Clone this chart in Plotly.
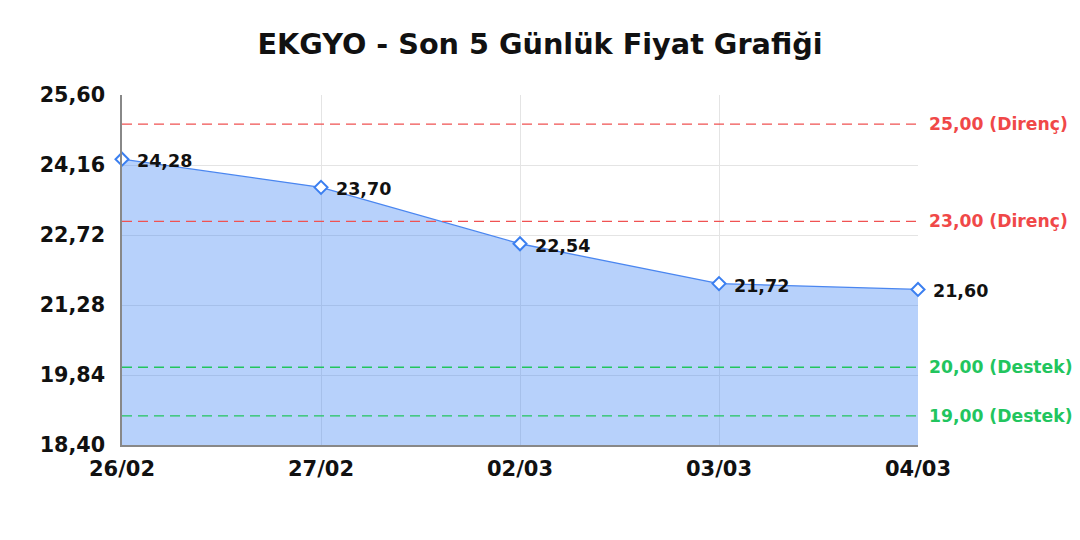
import plotly.graph_objects as go

dates = ["26/02", "27/02", "02/03", "03/03", "04/03"]
prices = [24.28, 23.70, 22.54, 21.72, 21.60]
resistance = [25.00, 23.00]
support = [20.00, 19.00]
y_ticks = [18.40, 19.84, 21.28, 22.72, 24.16, 25.60]

FONT = "DejaVu Sans"


def tr(v):
    return f"{v:.2f}".replace(".", ",")


fig = go.Figure()
fig.add_trace(go.Scatter(
    x=dates, y=prices, mode="lines+markers",
    line=dict(color="#4a86f0", width=1.3),
    fill="tozeroy", fillcolor="rgba(66,133,244,0.38)",
    marker=dict(symbol="diamond", size=10, color="white",
                line=dict(width=2, color="#3b7ff0")),
    cliponaxis=False, hoverinfo="skip", showlegend=False,
))

shapes = []
annotations = []
for d, v in zip(dates, prices):
    annotations.append(dict(x=d, y=v, xref="x", yref="y", text=tr(v), showarrow=False,
                            xanchor="left", yanchor="middle", xshift=13, yshift=-2,
                            font=dict(family=FONT, size=17.5, color="#111", weight="bold")))
for v in resistance:
    shapes.append(dict(type="line", xref="paper", x0=0, x1=1, yref="y", y0=v, y1=v,
                       line=dict(color="#f05252", width=1.4, dash="10px,6px")))
    annotations.append(dict(xref="paper", x=1.0, xshift=9, yref="y", y=v, xanchor="left",
                            text=tr(v) + " (Direnç)", showarrow=False,
                            font=dict(family=FONT, size=17.2, color="#f04848", weight="bold")))
for v in support:
    shapes.append(dict(type="line", xref="paper", x0=0, x1=1, yref="y", y0=v, y1=v,
                       line=dict(color="#22c55e", width=1.4, dash="10px,6px")))
    annotations.append(dict(xref="paper", x=1.0, xshift=9, yref="y", y=v, xanchor="left",
                            text=tr(v) + " (Destek)", showarrow=False,
                            font=dict(family=FONT, size=17.2, color="#22c55e", weight="bold")))

fig.update_layout(
    width=1080, height=540,
    margin=dict(l=114, r=170, t=87, b=103),
    paper_bgcolor="white", plot_bgcolor="white",
    separators=",.",
    title=dict(text="EKGYO - Son 5 Günlük Fiyat Grafiği", x=532 / 1080, xanchor="center",
               xref="container", y=1 - 36 / 540, yanchor="middle",
               font=dict(family=FONT, size=28.7, color="#111", weight="bold")),
    shapes=shapes, annotations=annotations,
    xaxis=dict(type="category", range=[0, len(dates) - 1], showgrid=True,
               gridcolor="#e4e4e4", showline=True, linecolor="#888", linewidth=1.5,
               ticks="", ticklabelstandoff=4,
               tickfont=dict(family=FONT, size=21, color="#111", weight="bold")),
    yaxis=dict(range=[18.40, 25.60], tickvals=y_ticks,
               ticktext=[tr(v) for v in y_ticks],
               showgrid=True, gridcolor="#e4e4e4", showline=True, linecolor="#888",
               linewidth=1.5, zeroline=False, ticks="", ticklabelstandoff=11,
               tickfont=dict(family=FONT, size=20.7, color="#111", weight="bold")),
)
fig.write_html("out.html")
